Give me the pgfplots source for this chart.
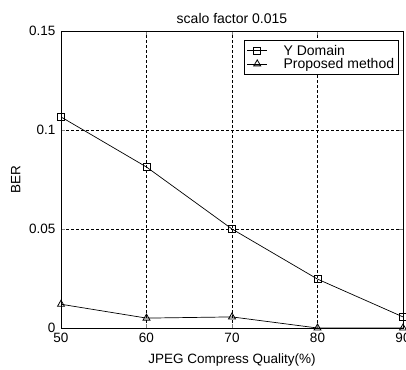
\documentclass[border=0pt]{standalone}
\usepackage{pgfplots}
\pgfplotsset{compat=1.18}
\usepackage{fontspec}
\setmainfont{Liberation Sans}
\begin{document}
\begin{tikzpicture}
\begin{axis}[
  name=ax,
  scale only axis,
  width=342pt, height=297pt,
  xmin=50, xmax=90, ymin=0, ymax=0.15,
  xtick={50,60,70,80,90},
  ytick={0,0.05,0.1,0.15},
  yticklabels={0,0.05,0.1,0.15},
  /pgf/number format/assume math mode=true,
  tick label style={font=\fontsize{13.5}{15}\selectfont},
  yticklabel style={xshift=-2pt},
  xticklabel style={yshift=-1.5pt},
  tick align=inside,
  major tick length=4pt,
  grid=major,
  grid style={black, densely dashed, line width=0.6pt},
  axis line style={black, line width=0.9pt},
  xlabel={JPEG Compress Quality(\%)},
  ylabel={BER},
  label style={font=\fontsize{13.5}{15}\selectfont},
  xlabel style={yshift=-4pt},
  ylabel style={yshift=2pt},
  title={scalo factor 0.015},
  title style={font=\fontsize{14}{16}\selectfont, yshift=-2pt},
  legend style={at={(1,1)}, anchor=north east, xshift=-4pt, yshift=-9pt,
    font=\fontsize{14}{16}\selectfont, draw=black, line width=0.8pt,
    inner sep=2.5pt, row sep=-2.5pt, column sep=14pt},
  legend cell align=left,
  legend image code/.code={\draw[mark repeat=2,mark phase=2] plot coordinates {(0pt,0pt) (10pt,0pt) (20pt,0pt)};},
]
\addplot[black, line width=0.7pt, mark=square, mark size=3.5pt, mark options={line width=0.8pt}]
  coordinates {(50,0.1066) (60,0.0813) (70,0.0500) (80,0.0247) (90,0.0056)};
\addlegendentry{Y Domain}
\addplot[black, line width=0.7pt, mark=triangle, mark size=4pt, mark options={line width=0.8pt}]
  coordinates {(50,0.0120) (60,0.0050) (70,0.0056) (80,0.0000) (90,0.0000)};
\addlegendentry{Proposed method}
\end{axis}
\pgfresetboundingbox
\path[use as bounding box] ([shift={(-61pt,-41pt)}]ax.south west) rectangle ([shift={(3pt,31pt)}]ax.north east);
\end{tikzpicture}
\end{document}
